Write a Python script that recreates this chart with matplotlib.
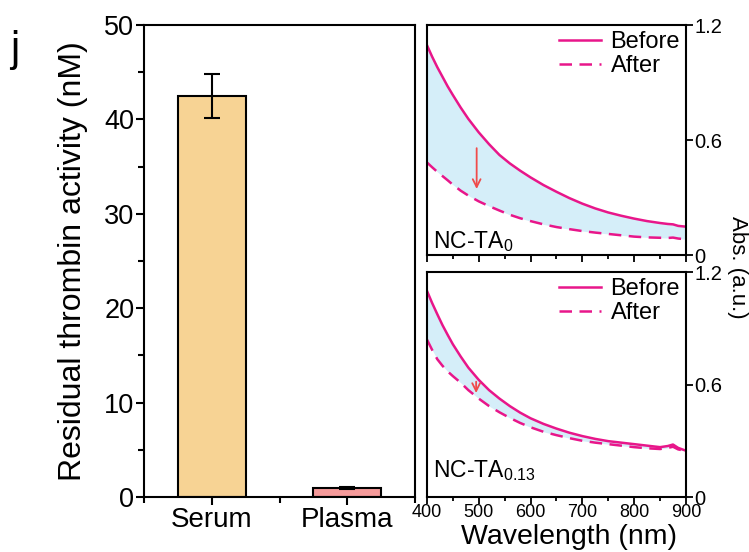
import numpy as np
import matplotlib.pyplot as plt
from matplotlib.ticker import MultipleLocator

plt.rcParams['font.family'] = ['Liberation Sans', 'DejaVu Sans']
plt.rcParams['mathtext.default'] = 'regular'

# bar data
groups = ['Serum', 'Plasma']
activity = [42.5, 0.95]
activity_err = [2.3, 0.15]

# absorbance spectra (denser where the curves bend)
wavelength = [400, 410, 420, 430, 440, 450, 465, 480, 500, 520, 540, 560, 580, 600,
              625, 650, 675, 700, 725, 750, 775, 800, 825, 850, 865, 875, 885, 900]
ta0_before = [1.095, 1.035, 0.98, 0.93, 0.88, 0.835, 0.77, 0.71, 0.64, 0.578, 0.522, 0.478, 0.44, 0.405,
              0.365, 0.33, 0.297, 0.268, 0.243, 0.222, 0.205, 0.19, 0.177, 0.167, 0.162, 0.16, 0.152, 0.148]
ta0_after = [0.483, 0.458, 0.434, 0.412, 0.39, 0.367, 0.336, 0.31, 0.28, 0.255, 0.232, 0.21, 0.192, 0.177,
             0.16, 0.146, 0.135, 0.125, 0.117, 0.11, 0.103, 0.096, 0.092, 0.09, 0.089, 0.091, 0.086, 0.082]
ta13_before = [1.10, 1.035, 0.975, 0.917, 0.865, 0.815, 0.75, 0.69, 0.625, 0.57, 0.525, 0.485, 0.45, 0.42,
               0.39, 0.365, 0.343, 0.325, 0.31, 0.298, 0.29, 0.282, 0.274, 0.266, 0.272, 0.28, 0.262, 0.247]
ta13_after = [0.84, 0.785, 0.735, 0.70, 0.67, 0.645, 0.61, 0.57, 0.525, 0.485, 0.452, 0.422, 0.395, 0.372,
              0.348, 0.33, 0.314, 0.30, 0.29, 0.282, 0.274, 0.266, 0.26, 0.256, 0.262, 0.268, 0.254, 0.246]

pink = '#e8168a'
fill_col = '#d5eef9'
arrow_col = '#f04b4b'

fig = plt.figure(figsize=(7.49, 5.52), dpi=100)

# ---- left bar chart ----
ax = fig.add_axes([0.1923, 0.0996, 0.3618, 0.855])
x = np.arange(len(groups))
ax.bar(x, activity, width=0.5, color=['#f7d394', '#f59a9a'], edgecolor='black', linewidth=1.5,
       yerr=activity_err, error_kw=dict(ecolor='black', elinewidth=1.5, capsize=6, capthick=1.5))
ax.set_xlim(-0.5, 1.5)
ax.set_ylim(0, 50)
ax.set_xticks(x)
ax.set_xticklabels(groups, fontsize=20)
ax.xaxis.set_minor_locator(MultipleLocator(0.5))
ax.yaxis.set_major_locator(MultipleLocator(10))
ax.yaxis.set_minor_locator(MultipleLocator(5))
ax.tick_params(axis='y', labelsize=19.5)
ax.tick_params(which='major', direction='out', length=6, width=1.5, pad=1)
ax.tick_params(which='minor', direction='out', length=4, width=1.5)
ax.set_ylabel('Residual thrombin activity (nM)', fontsize=23)
ax.yaxis.set_label_coords(-0.207, 0.5)
for s in ax.spines.values():
    s.set_linewidth(1.5)
fig.text(0.014, 0.89, 'j', fontsize=30)

# ---- right spectra ----
def spectra(pos, before, after, label, label_y, arrow_x, arrow_y0, arrow_y1, show_x):
    a = fig.add_axes(pos)
    a.fill_between(wavelength, after, before, color=fill_col, lw=0)
    a.plot(wavelength, before, color=pink, lw=1.8, label='Before')
    a.plot(wavelength, after, color=pink, lw=1.8, ls=(0, (5, 3)), label='After')
    a.annotate('', xy=(arrow_x, arrow_y1), xytext=(arrow_x, arrow_y0),
               arrowprops=dict(arrowstyle='->', color=arrow_col, lw=1.3, mutation_scale=14))
    a.set_xlim(400, 900)
    a.set_ylim(0, 1.2)
    a.yaxis.tick_right()
    a.set_yticks([0, 0.6, 1.2])
    a.set_yticklabels(['0', '0.6', '1.2'])
    a.xaxis.set_major_locator(MultipleLocator(100))
    a.xaxis.set_minor_locator(MultipleLocator(50))
    a.tick_params(which='major', direction='out', length=5, width=1.3, pad=1)
    a.tick_params(which='minor', direction='out', length=3, width=1.3)
    a.tick_params(axis='y', labelsize=14.5)
    a.tick_params(axis='x', labelsize=13, pad=0)
    if not show_x:
        a.tick_params(axis='x', labelbottom=False)
    a.text(0.022, label_y, label, transform=a.transAxes, fontsize=16.5, ha='left', va='baseline')
    a.legend(loc='upper right', frameon=False, fontsize=17, handlelength=1.8,
             borderaxespad=0.05, labelspacing=0.1, handletextpad=0.4, borderpad=0.2)
    for s in a.spines.values():
        s.set_linewidth(1.5)
    return a

spectra([0.570, 0.538, 0.3458, 0.4167], ta0_before, ta0_after, 'NC-TA$_0$', 0.028,
        496, 0.572, 0.33, False)
ab = spectra([0.570, 0.0996, 0.3458, 0.4076], ta13_before, ta13_after, 'NC-TA$_{0.13}$', 0.089,
             495, 0.63, 0.54, True)
ab.set_xlabel('Wavelength (nm)', fontsize=20.5)
ab.xaxis.set_label_coords(0.55, -0.12)
fig.text(0.984, 0.515, 'Abs. (a.u.)', rotation=270, fontsize=16, ha='center', va='center')

fig.savefig('out.png', dpi=100)
